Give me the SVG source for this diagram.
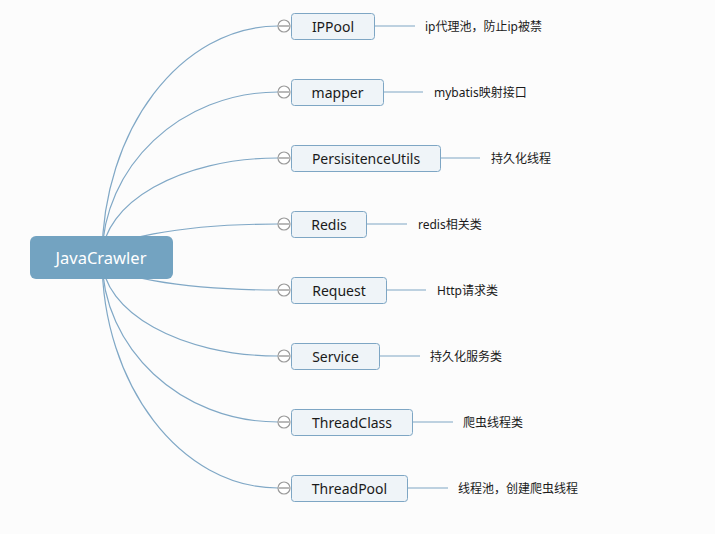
<svg xmlns="http://www.w3.org/2000/svg" width="715" height="534" viewBox="0 0 715 534">
<style>
.bg{fill:#fcfcfc}
.curve{fill:none;stroke:#80a8c6;stroke-width:1.2}
.link{fill:none;stroke:#7ea6c4;stroke-width:1}
.box{fill:#eff4f8;stroke:#7ea6c4;stroke-width:1}
.btxt{font-family:"Noto Sans","Noto Sans CJK SC",sans-serif;font-size:14px;fill:#1a1a1a;text-anchor:middle}
.lbl{font-family:"Noto Sans","Noto Sans CJK SC",sans-serif;font-size:12px;fill:#1a1a1a}
.col{fill:#ffffff;stroke:#9a9a9a;stroke-width:1.2}
.colm{stroke:#8a8a8a;stroke-width:1.2}
</style>
<rect class="bg" x="0" y="0" width="715" height="534"/>
<g id="connectors">
<path class="curve" d="M102,258 C102,129.9 180.8,26 278,26"/>
<path class="curve" d="M102,258 C102,166.4 180.8,92 278,92"/>
<path class="curve" d="M102,258 C102,202.8 180.8,158 278,158"/>
<path class="curve" d="M102,258 C102,239.2 180.8,224 278,224"/>
<path class="curve" d="M102,258 C102,275.7 180.8,290 278,290"/>
<path class="curve" d="M102,258 C102,312.1 180.8,356 278,356"/>
<path class="curve" d="M102,258 C102,348.5 180.8,422 278,422"/>
<path class="curve" d="M102,258 C102,385 180.8,488 278,488"/>
<path class="link" d="M375,26 H415"/>
<path class="link" d="M384,92 H423"/>
<path class="link" d="M441,158 H480"/>
<path class="link" d="M367,224 H407"/>
<path class="link" d="M387,290 H426"/>
<path class="link" d="M380,356 H420"/>
<path class="link" d="M413,422 H453"/>
<path class="link" d="M408,488 H448"/>
</g>
<g id="root">
<rect x="30" y="236" width="143" height="43" rx="6" fill="#73a3c1"/>
<text x="101" y="264" font-family="Noto Sans, Noto Sans CJK SC, sans-serif" font-size="16.5" fill="#ffffff" text-anchor="middle">JavaCrawler</text>
</g>
<g id="ippool">
<rect class="box" x="291.5" y="13.5" width="83" height="26" rx="3"/>
<text class="btxt" x="333" y="31.5">IPPool</text>
<circle class="col" cx="284" cy="26" r="6"/><path class="colm" d="M279,26 H289"/>
<text class="lbl" x="425" y="31">ip代理池，防止ip被禁</text>
</g>
<g id="mapper">
<rect class="box" x="291.5" y="79.5" width="92" height="26" rx="3"/>
<text class="btxt" x="337.5" y="97.5">mapper</text>
<circle class="col" cx="284" cy="92" r="6"/><path class="colm" d="M279,92 H289"/>
<text class="lbl" x="434" y="97">mybatis映射接口</text>
</g>
<g id="persisitence">
<rect class="box" x="291.5" y="145.5" width="149" height="26" rx="3"/>
<text class="btxt" x="366" y="163.5">PersisitenceUtils</text>
<circle class="col" cx="284" cy="158" r="6"/><path class="colm" d="M279,158 H289"/>
<text class="lbl" x="491" y="163">持久化线程</text>
</g>
<g id="redis">
<rect class="box" x="291.5" y="211.5" width="75" height="26" rx="3"/>
<text class="btxt" x="329" y="229.5">Redis</text>
<circle class="col" cx="284" cy="224" r="6"/><path class="colm" d="M279,224 H289"/>
<text class="lbl" x="418" y="229">redis相关类</text>
</g>
<g id="request">
<rect class="box" x="291.5" y="277.5" width="95" height="26" rx="3"/>
<text class="btxt" x="339" y="295.5">Request</text>
<circle class="col" cx="284" cy="290" r="6"/><path class="colm" d="M279,290 H289"/>
<text class="lbl" x="437" y="295">Http请求类</text>
</g>
<g id="service">
<rect class="box" x="291.5" y="343.5" width="88" height="26" rx="3"/>
<text class="btxt" x="335.5" y="361.5">Service</text>
<circle class="col" cx="284" cy="356" r="6"/><path class="colm" d="M279,356 H289"/>
<text class="lbl" x="430" y="361">持久化服务类</text>
</g>
<g id="threadclass">
<rect class="box" x="291.5" y="409.5" width="121" height="26" rx="3"/>
<text class="btxt" x="352" y="427.5">ThreadClass</text>
<circle class="col" cx="284" cy="422" r="6"/><path class="colm" d="M279,422 H289"/>
<text class="lbl" x="463" y="427">爬虫线程类</text>
</g>
<g id="threadpool">
<rect class="box" x="291.5" y="475.5" width="116" height="26" rx="3"/>
<text class="btxt" x="349.5" y="493.5">ThreadPool</text>
<circle class="col" cx="284" cy="488" r="6"/><path class="colm" d="M279,488 H289"/>
<text class="lbl" x="458" y="493">线程池，创建爬虫线程</text>
</g>
</svg>
